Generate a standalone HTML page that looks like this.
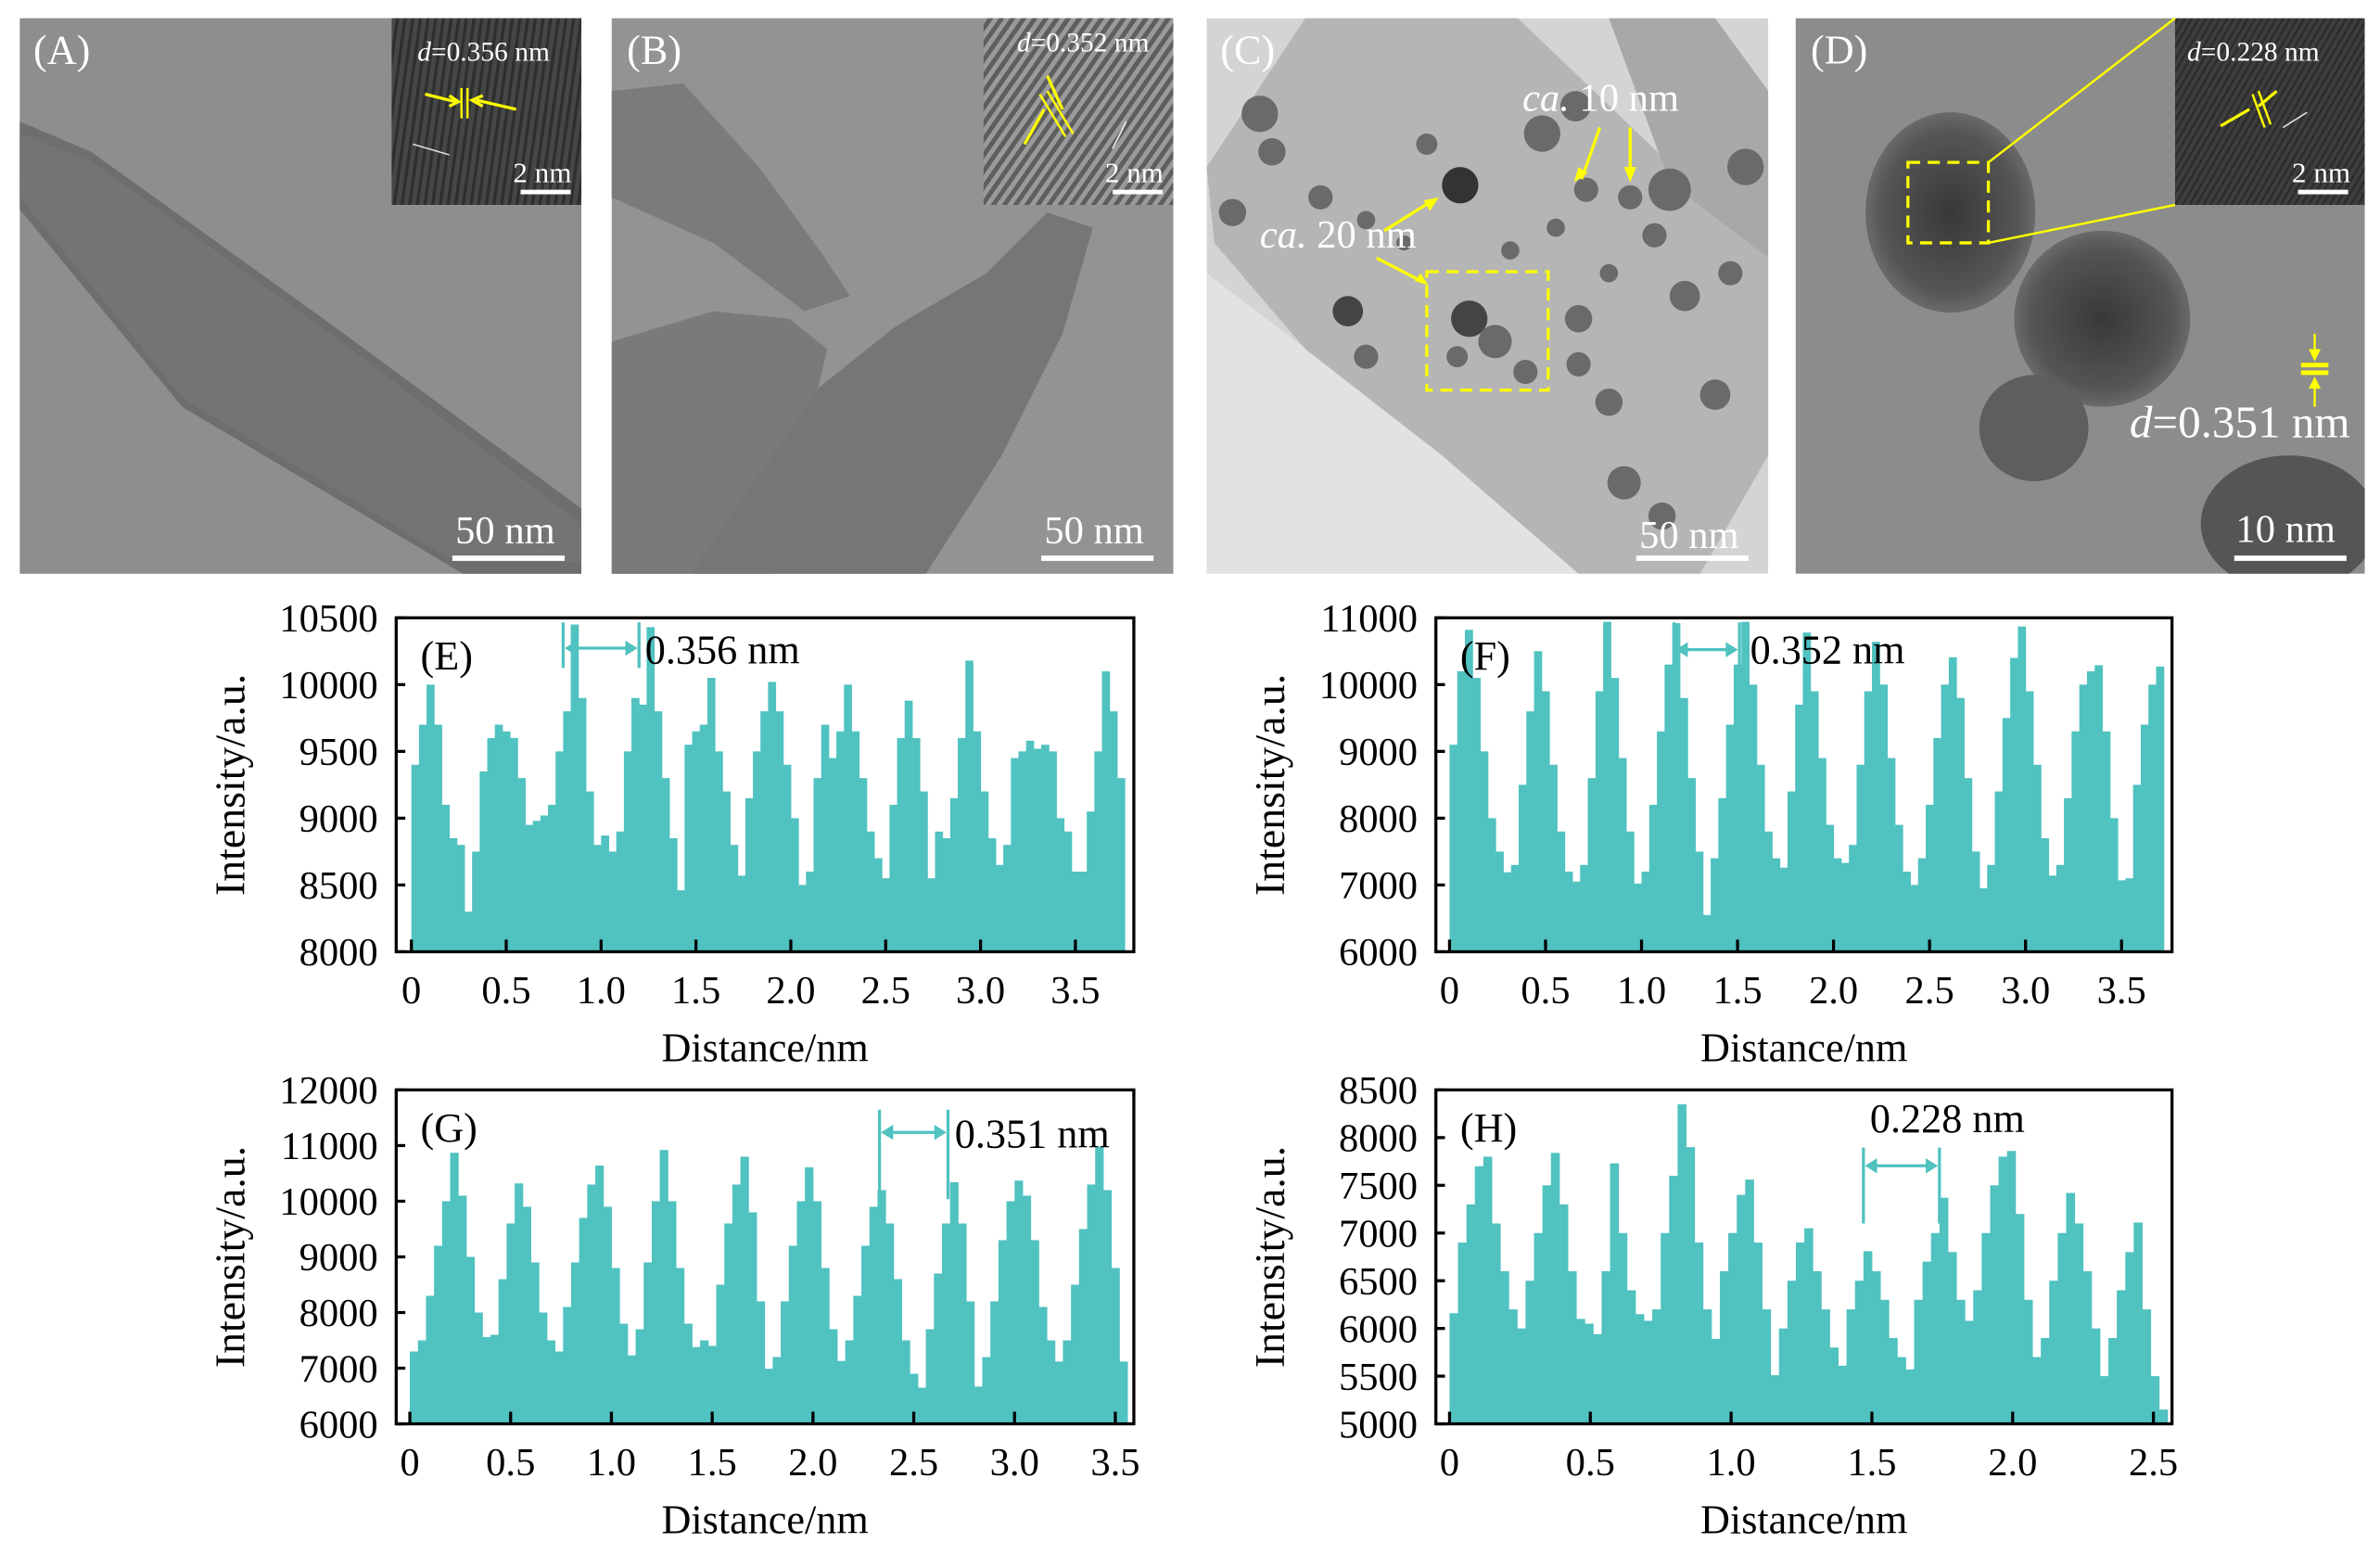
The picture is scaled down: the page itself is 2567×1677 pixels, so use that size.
<!DOCTYPE html>
<html><head><meta charset="utf-8"><style>
html,body{margin:0;padding:0;background:#fff;}
svg{display:block;}
text{font-family:"Liberation Serif",serif;}
</style></head><body>
<svg id="fig" width="2567" height="1677" viewBox="0 0 1568 1024.4" xmlns="http://www.w3.org/2000/svg">
<rect width="1568" height="1024.4" fill="#fff"/>
<defs>
<pattern id="lat1" width="5" height="5" patternUnits="userSpaceOnUse" patternTransform="rotate(8)"><rect width="5" height="5" fill="#464646"/><rect width="2" height="5" fill="#2e2e2e"/></pattern>
<pattern id="lat2" width="6" height="6" patternUnits="userSpaceOnUse" patternTransform="rotate(35)"><rect width="6" height="6" fill="#9a9a9a"/><rect width="3" height="6" fill="#5e5e5e"/></pattern>
<pattern id="lat3" width="4" height="4" patternUnits="userSpaceOnUse" patternTransform="rotate(30)"><rect width="4" height="4" fill="#3e3e3e"/><rect width="1.5" height="4" fill="#2c2c2c"/></pattern>
<radialGradient id="np"><stop offset="0" stop-color="#383838"/><stop offset="0.8" stop-color="#555"/><stop offset="1" stop-color="#6a6a6a"/></radialGradient>
<clipPath id="clipD"><rect x="1183" y="12" width="375" height="366"/></clipPath>
<clipPath id="clipC"><rect x="795" y="12" width="370" height="366"/></clipPath>
</defs>

<!-- Panel A -->
<g>
<rect x="13" y="12" width="370" height="366" fill="#8e8e8e"/>
<polygon points="13,80 60,100 220,215 383,335 383,378 305,378 120,268 13,138" fill="#6e6e6e"/>
<polygon points="13,88 60,106 215,218 383,345 383,370 300,370 120,262 13,130" fill="#747474"/>
<rect x="258" y="12" width="125" height="123" fill="url(#lat1)"/>
<text x="22" y="42" font-size="27" fill="#fff">(A)</text>
<text x="275" y="40" font-size="18" fill="#fff"><tspan font-style="italic">d</tspan>=0.356 nm</text>
<line x1="304" y1="58" x2="304" y2="78" stroke="#ff0" stroke-width="1.5"/><line x1="308" y1="58" x2="308" y2="78" stroke="#ff0" stroke-width="1.5"/>
<path d="M280,62 L300,67 M296,63 L302,67 L296,70 M340,72 L314,66 M318,63 L311,66 L318,70" stroke="#ff0" stroke-width="2" fill="none"/>
<line x1="272" y1="95" x2="296" y2="102" stroke="#ddd" stroke-width="1"/>
<text x="338" y="120" font-size="19" fill="#fff">2 nm</text>
<rect x="343" y="125" width="33" height="3" fill="#fff"/>
<text x="300" y="358" font-size="26" fill="#fff">50 nm</text>
<rect x="298" y="366" width="74" height="3.5" fill="#fff"/>
</g>

<!-- Panel B -->
<g>
<rect x="403" y="12" width="370" height="366" fill="#939393"/>
<polygon points="403,60 450,55 500,110 540,165 560,195 530,205 470,160 403,130" fill="#7b7b7b"/>
<polygon points="403,225 470,205 520,210 545,230 510,378 403,378" fill="#7a7a7a"/>
<polygon points="455,378 540,255 590,215 650,180 690,140 720,150 700,220 660,300 610,378" fill="#767676"/>
<rect x="648" y="12" width="125" height="123" fill="url(#lat2)"/>
<text x="413" y="42" font-size="27" fill="#fff">(B)</text>
<text x="670" y="34" font-size="18" fill="#fff"><tspan font-style="italic">d</tspan>=0.352 nm</text>
<path d="M690,50 L700,72 M675,95 L688,72" stroke="#ff0" stroke-width="2"/>
<line x1="685" y1="62" x2="702" y2="90" stroke="#ff0" stroke-width="1.5"/><line x1="690" y1="60" x2="707" y2="88" stroke="#ff0" stroke-width="1.5"/>
<line x1="733" y1="98" x2="742" y2="80" stroke="#eee" stroke-width="1"/>
<text x="728" y="120" font-size="19" fill="#fff">2 nm</text>
<rect x="733" y="125" width="33" height="3" fill="#fff"/>
<text x="688" y="358" font-size="26" fill="#fff">50 nm</text>
<rect x="686" y="366" width="74" height="3.5" fill="#fff"/>
</g>

<!-- Panel C -->
<g clip-path="url(#clipC)">
<rect x="795" y="12" width="370" height="366" fill="#d4d4d4"/>
<polygon points="795,180 900,260 1000,330 1050,378 795,378" fill="#e2e2e2"/>
<polygon points="860,12 1000,12 1165,170 1165,300 1120,378 1040,378 950,300 860,230 800,160 795,110" fill="#b5b5b5"/>
<polygon points="1060,12 1130,12 1165,60 1165,170 1100,120" fill="#a8a8a8"/>
<g fill="#6a6a6a">
<circle cx="830" cy="75" r="12"/><circle cx="838" cy="100" r="9"/><circle cx="812" cy="140" r="9"/><circle cx="870" cy="130" r="8"/>
<circle cx="900" cy="145" r="6"/><circle cx="925" cy="160" r="5"/><circle cx="962" cy="122" r="12" fill="#333"/><circle cx="1016" cy="88" r="12"/>
<circle cx="1038" cy="70" r="10"/><circle cx="1074" cy="130" r="8"/><circle cx="1045" cy="125" r="8"/><circle cx="1100" cy="125" r="14"/>
<circle cx="968" cy="210" r="12" fill="#444"/><circle cx="985" cy="225" r="11"/><circle cx="960" cy="235" r="7"/><circle cx="1005" cy="245" r="8"/>
<circle cx="888" cy="205" r="10" fill="#444"/><circle cx="900" cy="235" r="8"/><circle cx="1040" cy="210" r="9"/><circle cx="1040" cy="240" r="8"/>
<circle cx="1060" cy="180" r="6"/><circle cx="1090" cy="155" r="8"/><circle cx="1110" cy="195" r="10"/><circle cx="1130" cy="260" r="10"/>
<circle cx="1070" cy="318" r="11"/><circle cx="1095" cy="340" r="9"/><circle cx="1060" cy="265" r="9"/><circle cx="1150" cy="110" r="12"/>
<circle cx="940" cy="95" r="7"/><circle cx="995" cy="165" r="6"/><circle cx="1025" cy="150" r="6"/><circle cx="1140" cy="180" r="8"/>
</g>
<rect x="940" y="179" width="80" height="78" fill="none" stroke="#ff0" stroke-width="2" stroke-dasharray="8,5"/>
<text x="804" y="42" font-size="27" fill="#fff">(C)</text>
<text x="1003" y="73" font-size="26" fill="#fff"><tspan font-style="italic">ca.</tspan> 10 nm</text>
<text x="830" y="163" font-size="26" fill="#fff"><tspan font-style="italic">ca.</tspan> 20 nm</text>
<path d="M1054,84 L1042,118 M1074,84 L1074,114 M912,152 L944,132 M907,170 L936,185" stroke="#ff0" stroke-width="2"/>
<path d="M1037,120 L1040,110 L1046,114Z M1074,120 L1070,110 L1078,110Z M948,130 L938,132 L942,139Z M941,188 L932,185 L936,180Z" fill="#ff0"/>
<text x="1080" y="361" font-size="26" fill="#fff">50 nm</text>
<rect x="1078" y="366" width="74" height="3.5" fill="#fff"/>
</g>

<!-- Panel D -->
<g clip-path="url(#clipD)">
<rect x="1183" y="12" width="375" height="366" fill="#8c8c8c"/>
<ellipse cx="1285" cy="140" rx="56" ry="66" fill="url(#np)"/>
<ellipse cx="1385" cy="210" rx="58" ry="58" fill="url(#np)"/>
<ellipse cx="1340" cy="282" rx="36" ry="35" fill="#5e5e5e"/>
<ellipse cx="1508" cy="345" rx="58" ry="45" fill="#555"/>
<rect x="1433" y="12" width="125" height="123" fill="url(#lat3)"/>
<rect x="1257" y="107" width="53" height="53" fill="none" stroke="#ff0" stroke-width="2" stroke-dasharray="8,5"/>
<line x1="1310" y1="107" x2="1433" y2="12" stroke="#ff0" stroke-width="1.5"/>
<line x1="1310" y1="160" x2="1433" y2="135" stroke="#ff0" stroke-width="1.5"/>
<text x="1193" y="42" font-size="27" fill="#fff">(D)</text>
<text x="1441" y="40" font-size="18" fill="#fff"><tspan font-style="italic">d</tspan>=0.228 nm</text>
<path d="M1463,83 L1482,72 M1500,60 L1488,70" stroke="#ff0" stroke-width="2"/>
<line x1="1484" y1="62" x2="1492" y2="84" stroke="#ff0" stroke-width="1.5"/><line x1="1488" y1="60" x2="1496" y2="82" stroke="#ff0" stroke-width="1.5"/>
<line x1="1504" y1="84" x2="1520" y2="74" stroke="#ddd" stroke-width="1"/>
<text x="1510" y="120" font-size="19" fill="#fff">2 nm</text>
<rect x="1514" y="125" width="33" height="3" fill="#fff"/>
<rect x="1516" y="239" width="18" height="3" fill="#ff0"/><rect x="1516" y="244" width="18" height="3" fill="#ff0"/>
<path d="M1525,220 L1525,236 M1525,252 L1525,268" stroke="#ff0" stroke-width="1.5"/>
<path d="M1525,238 L1521,230 L1529,230Z M1525,248 L1521,256 L1529,256Z" fill="#ff0"/>
<text x="1403" y="288" font-size="30" fill="#fff"><tspan font-style="italic">d</tspan>=0.351 nm</text>
<text x="1473" y="357" font-size="26" fill="#fff">10 nm</text>
<rect x="1472" y="366" width="74" height="3.5" fill="#fff"/>
</g>

<g id="charts"></g>
</svg>
<script>
// ---- data ----
const eValues=[9400,9700,10000,9700,9100,8850,8800,8300,8750,9350,
9600,9700,9650,9600,9300,8950,8980,9020,9100,9500,
9800,10450,9900,9200,8800,8870,8750,8900,9500,9900,
9850,10430,9800,9300,8850,8460,9550,9650,9700,10050,
9500,9200,8800,8570,9150,9500,9800,10020,9800,9400,
9000,8500,8600,9300,9700,9450,9650,10000,9650,9300,
8900,8700,8550,9100,9600,9880,9600,9200,8550,8900,
8850,9150,9600,10180,9650,9200,8850,8650,8800,9450,
9500,9580,9520,9550,9500,9000,8900,8600,8600,9050,
9500,10100,9800,9300];
const fValues=[9100,10200,10820,10100,9000,8000,7500,7190,7300,8500,
9600,10500,9900,8800,7800,7200,7050,7300,8600,9900,
10940,10100,8900,7800,7020,7200,8200,9300,10300,10920,
9800,8600,7500,6550,7400,8300,9400,10300,10940,10000,
8800,7800,7400,7260,8400,9700,10780,9900,8900,7900,
7400,7330,7600,8800,9900,10640,10000,8900,7900,7200,
7000,7400,8200,9200,10000,10410,9800,8600,7500,6950,
7300,8400,9500,10400,10870,9900,8800,7700,7140,7300,
8300,9300,10000,10200,10290,9300,8000,7070,7100,8500,
9400,10000,10270];
const gValues=[7300,7500,8300,9200,10000,10870,10100,9000,8000,7560,
7600,8600,9600,10320,9900,8900,8000,7500,7300,8100,
8900,9700,10300,10640,9900,8800,7800,7230,7700,8900,
10000,10920,10000,8800,7800,7380,7500,7400,8500,9600,
10300,10800,9800,8200,6990,7200,8200,9200,10000,10610,
10000,8800,7700,7130,7500,8300,9200,9900,10200,9600,
8600,7500,6900,6650,7700,8700,9600,10340,9600,8200,
6670,7200,8200,9300,10000,10370,10100,9300,8100,7500,
7120,7500,8500,9500,10300,10980,10200,8800,7120];
const hValues=[6160,6900,7300,7700,7800,7100,6600,6200,6000,6500,
7000,7500,7840,7300,6600,6100,6050,5940,6600,7730,
7000,6400,6150,6080,6200,7000,7600,8350,7900,6900,
6200,5890,6600,7000,7400,7560,6900,6200,5510,6000,
6500,6900,7050,6600,6200,5800,5610,6200,6500,6810,
6600,6300,5900,5700,5570,6300,6700,7000,7370,6800,
6300,6080,6400,7000,7500,7800,7860,7200,6300,5700,
5900,6500,7000,7420,7100,6600,6000,5500,5900,6400,
6800,7110,6200,5500,5150];
const eStep=0.04, fStep=0.04, gStep=0.04, hStep=0.03;
const eYTicks=[8000,8500,9000,9500,10000,10500];
const fYTicks=[6000,7000,8000,9000,10000,11000];
const gYTicks=[6000,7000,8000,9000,10000,11000,12000];
const hYTicks=[5000,5500,6000,6500,7000,7500,8000,8500];
const eXTicks=["0","0.5","1.0","1.5","2.0","2.5","3.0","3.5"];
const fXTicks=["0","0.5","1.0","1.5","2.0","2.5","3.0","3.5"];
const gXTicks=["0","0.5","1.0","1.5","2.0","2.5","3.0","3.5"];
const hXTicks=["0","0.5","1.0","1.5","2.0","2.5"];
const eMarks=[0.8,1.2], fMarks=[1.17,1.51], gMarks=[2.33,2.67], hMarks=[1.47,1.74];

const NS="http://www.w3.org/2000/svg";
const root=document.getElementById('charts');
function mk(tag,attrs,parent){const el=document.createElementNS(NS,tag);for(const k in attrs)el.setAttribute(k,attrs[k]);(parent||root).appendChild(el);return el;}
const TEAL="#50c2c0";

function chart(o){
  const g=mk('g',{});
  
  
  const x=v=>o.x0+(v)*o.pxPerNm;
  const y=v=>o.bottom-(v-o.ymin)/(o.ymax-o.ymin)*(o.bottom-o.top);
  o.values.forEach((v,i)=>{
    const x1=x(i*o.step), x2=x((i+1)*o.step);
    const r=mk('rect',{x:x1,y:y(v),width:x2-x1+0.3,height:o.bottom-y(v),fill:TEAL},g);
    
    
  });
  const fr=mk('rect',{x:o.left,y:o.top,width:o.right-o.left,height:o.bottom-o.top,fill:'none',stroke:'#000','stroke-width':2},g);
  
  
  o.yTicks.forEach(t=>{
    const yy=y(t);
    mk('line',{x1:o.left,x2:o.left+6,y1:yy,y2:yy,stroke:'#000','stroke-width':2},g);
    const tx=mk('text',{x:o.left-12,y:yy+9,'font-size':26,'text-anchor':'end'},g);
    tx.textContent=t;
    
    
  });
  o.xTicks.forEach(t=>{
    const xx=x(parseFloat(t));
    mk('line',{x1:xx,x2:xx,y1:o.bottom,y2:o.bottom-8,stroke:'#000','stroke-width':2},g);
    const tx=mk('text',{x:xx,y:o.bottom+34,'font-size':26,'text-anchor':'middle'},g);
    tx.textContent=t;
    
    
  });
  const xl=mk('text',{x:(o.left+o.right)/2,y:o.bottom+72,'font-size':27,'text-anchor':'middle'},g);
  xl.textContent='Distance/nm';
  
  
  const yl=mk('text',{x:0,y:0,'font-size':28,'text-anchor':'middle',transform:`translate(${o.left-100},${(o.top+o.bottom)/2}) rotate(-90)`},g);
  yl.textContent='Intensity/a.u.';
  
  
  const lb=mk('text',{x:o.left+16,y:o.top+34,'font-size':27},g);
  lb.textContent=o.label;
  
  
  const a=x(o.marks[0]), b=x(o.marks[1]);
  mk('line',{x1:a,x2:a,y1:o.markTop,y2:o.markBot,stroke:TEAL,'stroke-width':2},g);
  mk('line',{x1:b,x2:b,y1:o.markTop,y2:o.markBot,stroke:TEAL,'stroke-width':2},g);
  const ar=mk('line',{x1:a+6,x2:b-6,y1:o.arrowY,y2:o.arrowY,stroke:TEAL,'stroke-width':2},g);
  
  
  mk('path',{d:`M${a+1},${o.arrowY} l8,-5 v10 Z M${b-1},${o.arrowY} l-8,-5 v10 Z`,fill:TEAL},g);
  const at=mk('text',{x:o.textX,y:o.textY,'font-size':27},g);
  at.textContent=o.text;
  
  
}

chart({name:'chart-e',label:'(E)',values:eValues,step:eStep,yTicks:eYTicks,xTicks:eXTicks,ymin:8000,ymax:10500,
 left:261,right:747,top:407,bottom:627,x0:271,pxPerNm:125,marks:eMarks,markTop:410,markBot:440,arrowY:427,text:'0.356 nm',textX:425,textY:437});
chart({name:'chart-f',label:'(F)',values:fValues,step:fStep,yTicks:fYTicks,xTicks:fXTicks,ymin:6000,ymax:11000,
 left:946,right:1431,top:407,bottom:627,x0:955,pxPerNm:126.5,marks:fMarks,markTop:410,markBot:445,arrowY:428,text:'0.352 nm',textX:1153,textY:437});
chart({name:'chart-g',label:'(G)',values:gValues,step:gStep,yTicks:gYTicks,xTicks:gXTicks,ymin:6000,ymax:12000,
 left:261,right:747,top:718,bottom:938,x0:270,pxPerNm:132.8,marks:gMarks,markTop:731,markBot:790,arrowY:746,text:'0.351 nm',textX:629,textY:756});
chart({name:'chart-h',label:'(H)',values:hValues,step:hStep,yTicks:hYTicks,xTicks:hXTicks,ymin:5000,ymax:8500,
 left:946,right:1431,top:718,bottom:938,x0:955,pxPerNm:185.5,marks:hMarks,markTop:756,markBot:806,arrowY:768,text:'0.228 nm',textX:1232,textY:746});
</script>
</body></html>
